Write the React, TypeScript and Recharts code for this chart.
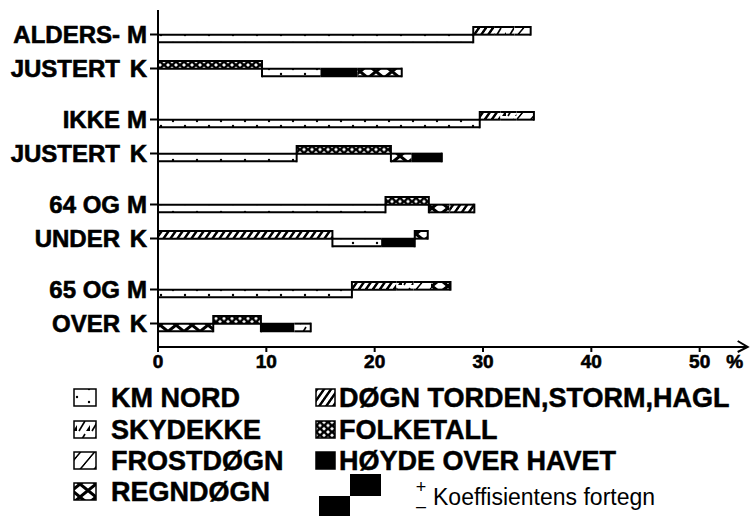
import React from 'react';
import { BarChart, Bar, XAxis, YAxis } from 'recharts';

const groupLabels = ['ALDERS-', 'JUSTERT', 'IKKE', 'JUSTERT', '64 OG', 'UNDER', '65 OG', 'OVER'];
const sexLabels = ['M', 'K', 'M', 'K', 'M', 'K', 'M', 'K'];
// place of each row on an 18 step category scale, the empty steps split the age groups
const rowSlots = [0, 2, 5, 7, 10, 12, 15, 17];

// factors in the order they are chained along each bar
const rowFactors = [
    ['km', 'torden', 'sky', 'frost'],
    ['folk', 'km', 'hoyde', 'regn'],
    ['km', 'torden', 'sky', 'frost'],
    ['km', 'folk', 'regn', 'hoyde'],
    ['km', 'folk', 'regn', 'torden'],
    ['torden', 'km', 'hoyde', 'regn'],
    ['km', 'torden', 'sky', 'frost', 'regn'],
    ['regn', 'folk', 'hoyde', 'sky'],
];
// share of explained variation, %
const rowShares = [
    [29.1, 2.0, 1.8, 1.5],
    [9.6, 5.4, 3.4, 4.1],
    [29.7, 1.9, 1.5, 1.6],
    [12.8, 8.7, 1.9, 2.8],
    [21.0, 4.0, 1.9, 2.3],
    [16.1, 4.5, 3.1, 1.2],
    [17.9, 4.1, 1.6, 1.6, 1.8],
    [5.1, 4.4, 3.1, 1.5],
];
// sign of the coefficient: + drawn above the tick, - below
const rowSigns = [
    [-1, 1, 1, 1],
    [1, -1, -1, -1],
    [-1, 1, 1, 1],
    [-1, 1, -1, -1],
    [-1, 1, -1, -1],
    [1, -1, -1, 1],
    [-1, 1, 1, 1, 1],
    [-1, 1, -1, -1],
];
const xTicks = [0, 10, 20, 30, 40, 50];

const legendLeft = [
    ['km', 'KM NORD'],
    ['sky', 'SKYDEKKE'],
    ['frost', 'FROSTDØGN'],
    ['regn', 'REGNDØGN'],
];
const legendRight = [
    ['torden', 'DØGN TORDEN,STORM,HAGL'],
    ['folk', 'FOLKETALL'],
    ['hoyde', 'HØYDE OVER HAVET'],
];

const FONT = '"Liberation Sans", Arial, Helvetica, sans-serif';
const SLOT_COUNT = 18;

const maxSegs = Math.max(...rowShares.map(r => r.length));
const segKeys = Array.from({ length: maxSegs }, (_, j) => `s${j}`);

const data = Array.from({ length: SLOT_COUNT }, (_, i) => {
    const r = rowSlots.indexOf(i);
    const entry: Record<string, any> = { id: `r${i}`, row: r };
    if (r >= 0) rowShares[r].forEach((v, j) => { entry[`s${j}`] = v; });
    return entry;
});

const segShape = (slot: number, sign: number) => (props: any) => {
    const { x, y, width, height, payload } = props;
    const r = payload ? payload.row : -1;
    if (r < 0 || rowSigns[r][slot] !== sign || !(width > 0)) return <g />;
    const signs = rowSigns[r];
    const first = slot === 0 || signs[slot - 1] !== sign;
    const last = slot === signs.length - 1 || signs[slot + 1] !== sign;
    const f = rowFactors[r][slot];
    return (
        <g>
            <rect x={x} y={y} width={width} height={height} fill={`url(#pat-${f})`} />
            <line x1={x} x2={x + width} y1={y} y2={y} stroke="#000" strokeWidth={2} />
            <line x1={x} x2={x + width} y1={y + height} y2={y + height} stroke="#000" strokeWidth={2} />
            {first && <line x1={x} x2={x} y1={y - 1} y2={y + height + 1} stroke="#000" strokeWidth={2} />}
            {last && <line x1={x + width} x2={x + width} y1={y - 1} y2={y + height + 1} stroke="#000" strokeWidth={2} />}
        </g>
    );
};

const heavy = { fontFamily: FONT, fontWeight: 700, fill: '#000', stroke: '#000', strokeWidth: 0.6 };

const YTick = (props: any) => {
    const { x, y, payload } = props;
    const r = rowSlots.indexOf(Number(String(payload.value).slice(1)));
    if (r < 0) return <g />;
    return (
        <g>
            <line x1={x - 8} x2={x} y1={y} y2={y} stroke="#000" strokeWidth={2} />
            <text x={x - 11} y={y} dy={8} textAnchor="end" fontSize={24} {...heavy}>{sexLabels[r]}</text>
            <text x={x - 38} y={y} dy={8} textAnchor="end" fontSize={24} {...heavy}>{groupLabels[r]}</text>
        </g>
    );
};

const XTick = (props: any) => {
    const { x, y, payload } = props;
    const axisY = y - 7;
    return (
        <g>
            <text x={x} y={y} dy={14} textAnchor="middle" fontSize={19} {...heavy}>{payload.value}</text>
            {payload.value === 50 && (
                <g>
                    <text x={x + 35} y={y} dy={14} textAnchor="middle" fontSize={19} {...heavy}>%</text>
                    <line x1={x + 40} x2={x + 47} y1={axisY} y2={axisY} stroke="#000" strokeWidth={2} />
                    <polyline points={`${x + 38},${axisY - 6} ${x + 48},${axisY} ${x + 38},${axisY + 5}`} fill="none" stroke="#000" strokeWidth={2} />
                </g>
            )}
        </g>
    );
};

const Patterns = () => (
    <defs>
        <pattern id="pat-km" patternUnits="userSpaceOnUse" width={24} height={13}>
            <rect width={24} height={13} fill="#fff" />
            <circle cx={5} cy={4} r={1.2} fill="#000" />
            <circle cx={17} cy={9} r={1.2} fill="#000" />
        </pattern>
        <pattern id="pat-torden" patternUnits="userSpaceOnUse" width={7} height={13} patternTransform="skewX(-35)">
            <rect width={7} height={13} fill="#fff" />
            <rect width={3} height={13} fill="#000" />
        </pattern>
        <pattern id="pat-frost" patternUnits="userSpaceOnUse" width={14} height={13} patternTransform="skewX(-40)">
            <rect width={14} height={13} fill="#fff" />
            <rect width={2} height={13} fill="#000" />
        </pattern>
        <pattern id="pat-sky" patternUnits="userSpaceOnUse" width={13} height={13}>
            <rect width={13} height={13} fill="#fff" />
            <path d="M1 12 L7 2" stroke="#000" strokeWidth={1.6} />
            <path d="M8 12 L12 6 L12 12 Z" fill="#000" />
        </pattern>
        <pattern id="pat-regn" patternUnits="userSpaceOnUse" width={16} height={13}>
            <rect width={16} height={13} fill="#fff" />
            <path d="M0 0 L16 13 M0 13 L16 0" stroke="#000" strokeWidth={3} />
        </pattern>
        <pattern id="pat-folk" patternUnits="userSpaceOnUse" width={8} height={6.5}>
            <rect width={8} height={6.5} fill="#000" />
            <path d="M4 1.4 L6 3.25 L4 5.1 L2 3.25 Z" fill="#fff" />
            <path d="M0 -1.85 L2 0 L0 1.85 L-2 0 Z M8 -1.85 L10 0 L8 1.85 L6 0 Z M0 4.65 L2 6.5 L0 8.35 L-2 6.5 Z M8 4.65 L10 6.5 L8 8.35 L6 6.5 Z" fill="#fff" />
        </pattern>
        <pattern id="pat-hoyde" patternUnits="userSpaceOnUse" width={8} height={8}>
            <rect width={8} height={8} fill="#000" />
        </pattern>
    </defs>
);

const LEG_TOP = 380;
const legendRowsY = [397, 429, 460, 491];

const Legend = () => {
    const txt = { fontSize: 27, ...heavy, strokeWidth: 0.5 };
    return (
        <svg width={751} height={138} style={{ position: 'absolute', left: 0, top: LEG_TOP }}>
            <Patterns />
            {legendLeft.map(([k, label], i) => {
                const cy = legendRowsY[i] - LEG_TOP;
                return (
                    <g key={k}>
                        <rect x={74} y={cy - 8} width={22} height={17} fill={`url(#pat-${k})`} stroke="#000" strokeWidth={1.5} />
                        <text x={111} y={cy + 10} {...txt}>{label}</text>
                    </g>
                );
            })}
            {legendRight.map(([k, label], i) => {
                const cy = legendRowsY[i] - LEG_TOP;
                return (
                    <g key={k}>
                        <rect x={316} y={cy - 8} width={19} height={17} fill={`url(#pat-${k})`} stroke="#000" strokeWidth={1.5} />
                        <text x={339} y={cy + 10} {...txt}>{label}</text>
                    </g>
                );
            })}
            <rect x={350} y={474 - LEG_TOP} width={31} height={22} fill="#000" />
            <rect x={319} y={496 - LEG_TOP} width={31} height={20} fill="#000" />
            <text x={421} y={493 - LEG_TOP} textAnchor="middle" fontFamily={FONT} fontSize={18} fill="#000">+</text>
            <text x={421} y={512 - LEG_TOP} textAnchor="middle" fontFamily={FONT} fontSize={18} fill="#000">–</text>
            <text x={433} y={505 - LEG_TOP} fontFamily={FONT} fontSize={23} fill="#000">Koeffisientens fortegn</text>
        </svg>
    );
};

export default function App() {
    return (
        <div style={{ position: 'absolute', left: 0, top: 0, width: 751, height: 518, background: '#fff' }}>
            <Legend />
            <div style={{ position: 'absolute', left: 0, top: 0 }}>
                <BarChart
                    width={751}
                    height={390}
                    data={data}
                    layout="vertical"
                    margin={{ top: 10, right: 8, bottom: 13, left: 8 }}
                    barSize={13}
                    barGap={0}
                >
                    <XAxis
                        type="number"
                        domain={[0, 54]}
                        ticks={xTicks}
                        allowDataOverflow
                        height={30}
                        axisLine={{ stroke: '#000', strokeWidth: 2 }}
                        tickLine={{ stroke: '#000', strokeWidth: 2 }}
                        tickSize={5}
                        tickMargin={2}
                        tick={(p: any) => <XTick {...p} />}
                    />
                    <YAxis
                        type="category"
                        dataKey="id"
                        width={150}
                        interval={0}
                        padding={{ top: 16, bottom: 15 }}
                        axisLine={{ stroke: '#000', strokeWidth: 2 }}
                        tickLine={false}
                        tickSize={0}
                        tickMargin={0}
                        tick={(p: any) => <YTick {...p} />}
                    />
                    {segKeys.map((k, j) => (
                        <Bar key={`p${k}`} dataKey={k} stackId="pos" isAnimationActive={false} shape={segShape(j, 1)} />
                    ))}
                    {segKeys.map((k, j) => (
                        <Bar key={`n${k}`} dataKey={k} stackId="neg" isAnimationActive={false} shape={segShape(j, -1)} />
                    ))}
                </BarChart>
            </div>
        </div>
    );
}
